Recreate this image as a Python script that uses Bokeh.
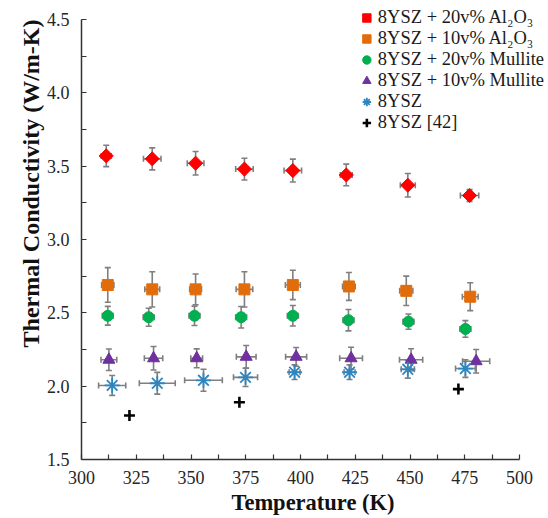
from math import pi
from bokeh.plotting import figure
from bokeh.models import (Range1d, FixedTicker, Whisker, TeeHead, ColumnDataSource,
                          Legend, LegendItem, Title)
from bokeh.embed import file_html
from bokeh.resources import INLINE

# ---------------- data ----------------
labels = ["8YSZ + 20v% Al₂O₃", "8YSZ + 10v% Al₂O₃", "8YSZ + 20v% Mullite",
          "8YSZ + 10v% Mullite", "8YSZ", "8YSZ [42]"]

t_al20 = [311.3, 332.3, 352.1, 374.4, 396.5, 420.9, 449.0, 477.2]
k_al20 = [3.57, 3.55, 3.52, 3.48, 3.47, 3.44, 3.37, 3.30]
ky_al20 = [0.073, 0.075, 0.080, 0.074, 0.078, 0.074, 0.080, 0.040]
tx_al20 = [2.3, 4.0, 3.8, 4.0, 4.0, 2.7, 3.4, 4.2]

t_al10 = [312.0, 332.3, 352.1, 374.4, 396.5, 422.1, 448.3, 477.5]
k_al10 = [2.69, 2.66, 2.66, 2.66, 2.69, 2.68, 2.65, 2.61]
ky_al10 = [0.118, 0.12, 0.105, 0.12, 0.10, 0.095, 0.10, 0.095]
tx_al10 = [2.8, 3.4, 2.7, 3.8, 3.4, 2.9, 3.0, 3.6]

t_mu20 = [312.0, 330.7, 351.6, 372.9, 396.5, 421.9, 449.3, 475.3]
k_mu20 = [2.48, 2.47, 2.48, 2.47, 2.48, 2.45, 2.44, 2.39]
ky_mu20 = [0.064, 0.061, 0.066, 0.073, 0.070, 0.073, 0.052, 0.057]
tx_mu20 = [2.5, 2.5, 2.5, 2.5, 2.5, 2.5, 2.5, 2.5]

t_mu10 = [312.5, 332.9, 352.6, 375.2, 398.0, 423.1, 450.5, 480.2]
k_mu10 = [2.18, 2.19, 2.19, 2.20, 2.20, 2.19, 2.18, 2.17]
ky_mu10 = [0.073, 0.080, 0.064, 0.077, 0.064, 0.075, 0.075, 0.080]
tx_mu10 = [3.6, 4.2, 2.7, 4.5, 4.8, 5.2, 5.3, 6.2]

t_ysz = [314.0, 334.6, 355.7, 374.9, 397.3, 422.4, 449.0, 475.3]
k_ysz = [2.005, 2.02, 2.04, 2.06, 2.095, 2.095, 2.115, 2.12]
ky_ysz = [0.068, 0.074, 0.075, 0.062, 0.05, 0.05, 0.06, 0.06]
tx_ysz = [6.2, 8.2, 8.6, 5.5, 2.5, 2.5, 3.0, 4.5]

t_ref = [321.9, 372.1, 472.1]
k_ref = [1.80, 1.89, 1.98]

x_ticks = [300, 325, 350, 375, 400, 425, 450, 475, 500]
y_ticks = [1.5, 2.0, 2.5, 3.0, 3.5, 4.0, 4.5]
y_tick_labels = ["1.5", "2.0", "2.5", "3.0", "3.5", "4.0", "4.5"]

x_title = "Temperature (K)"
y_title = "Thermal Conductivity (W/m-K)"

# ---------------- figure ----------------
SERIF = "'Liberation Serif', 'Times New Roman', serif"
W, H = 546, 517
BL, BR, BT = 81, 2, 7
FRAME_H = 452
BB = H - BT - FRAME_H
px_per_x = 2.19
px_per_y = 146.67
x_end = 300 + (W - BL - BR) / px_per_x
y_end = 1.5 + FRAME_H / px_per_y

p = figure(width=W, height=H, output_backend="svg", toolbar_location=None,
           x_range=Range1d(300, x_end), y_range=Range1d(1.5, y_end),
           min_border_left=BL, min_border_right=BR, min_border_top=BT,
           min_border_bottom=BB)
p.outline_line_color = None
p.grid.visible = False
p.background_fill_color = "white"

AX = "#333333"
for ax in (p.xaxis[0], p.yaxis[0]):
    ax.axis_line_color = AX
    ax.axis_line_width = 1.5
    ax.major_tick_line_color = AX
    ax.minor_tick_line_color = AX
    ax.major_tick_line_width = 1.2
    ax.minor_tick_line_width = 1.2
    ax.major_tick_in = 5
    ax.major_tick_out = 0
    ax.minor_tick_in = 5
    ax.minor_tick_out = 0
    ax.major_label_text_font = SERIF
    ax.major_label_text_font_size = "18px"
    ax.major_label_text_color = "#262626"

p.xaxis.bounds = (300, 500)
p.yaxis.bounds = (1.5, 4.5)
x_minor = [x + 12.5 for x in x_ticks[:-1]]
y_minor = [y + 0.25 for y in y_ticks[:-1]]
p.xaxis.ticker = FixedTicker(ticks=x_ticks, minor_ticks=x_minor)
p.yaxis.ticker = FixedTicker(ticks=y_ticks, minor_ticks=y_minor)
p.yaxis.major_label_overrides = {t: l for t, l in zip(y_ticks, y_tick_labels)}
p.xaxis.major_label_standoff = 11
p.yaxis.major_label_standoff = 12

# x axis title
p.xaxis.axis_label = x_title
p.xaxis.axis_label_text_font = SERIF
p.xaxis.axis_label_text_font_size = "22.5px"
p.xaxis.axis_label_text_font_style = "bold"
p.xaxis.axis_label_text_color = "#111111"
p.xaxis.axis_label_standoff = 3

# y axis title, placed toward the top like the reference
p.add_layout(Title(text=y_title, align="right", offset=12, text_font=SERIF,
                   text_font_size="24px", text_font_style="bold",
                   text_color="#111111", standoff=0), "left")

ERR = "#7f7f7f"


def errorbars(t, k, kerr, terr):
    src = ColumnDataSource(dict(
        t=t, k=k,
        kl=[a - b for a, b in zip(k, kerr)], ku=[a + b for a, b in zip(k, kerr)],
        tl=[a - b for a, b in zip(t, terr)], tu=[a + b for a, b in zip(t, terr)]))
    for base, lo, up, dim in (("t", "kl", "ku", "height"), ("k", "tl", "tu", "width")):
        p.add_layout(Whisker(source=src, base=base, lower=lo, upper=up, dimension=dim,
                             line_color=ERR, line_width=1.6,
                             lower_head=TeeHead(size=6, line_color=ERR, line_width=1.6),
                             upper_head=TeeHead(size=6, line_color=ERR, line_width=1.6)))


errorbars(t_al20, k_al20, ky_al20, tx_al20)
errorbars(t_al10, k_al10, ky_al10, tx_al10)
errorbars(t_mu20, k_mu20, ky_mu20, tx_mu20)
errorbars(t_mu10, k_mu10, ky_mu10, tx_mu10)
errorbars(t_ysz, k_ysz, ky_ysz, tx_ysz)

r1 = p.scatter(t_al20, k_al20, marker="square", angle=pi / 4, size=10,
               fill_color="#ff0000", line_color="#ff0000")
r2 = p.scatter(t_al10, k_al10, marker="square", size=11,
               fill_color="#e36c0a", line_color="#e36c0a")
r3 = p.scatter(t_mu20, k_mu20, marker="circle", size=11,
               fill_color="#00b050", line_color="#00b050")
r4 = p.scatter(t_mu10, k_mu10, marker="triangle", size=12,
               fill_color="#7030a0", line_color="#7030a0")
r5 = p.scatter(t_ysz, k_ysz, marker="asterisk", size=15,
               line_color="#2e86c1", line_width=1.8)
r6 = p.scatter(t_ref, k_ref, marker="cross", size=11,
               line_color="#000000", line_width=2.6)

legend = Legend(items=[LegendItem(label=l, renderers=[r]) for l, r in
                       zip(labels, [r1, r2, r3, r4, r5, r6])],
                location="top_right", orientation="vertical")
legend.label_text_font = SERIF
legend.label_text_font_size = "18.5px"
legend.label_text_color = "#1a1a1a"
legend.background_fill_alpha = 0
legend.border_line_alpha = 0
legend.padding = 0
legend.margin = 0
legend.spacing = 0
legend.glyph_height = 21
legend.glyph_width = 21
legend.label_height = 21
legend.label_standoff = 1
legend.label_text_baseline = "middle"
p.add_layout(legend)

open("out.html", "w").write(file_html(p, INLINE))
